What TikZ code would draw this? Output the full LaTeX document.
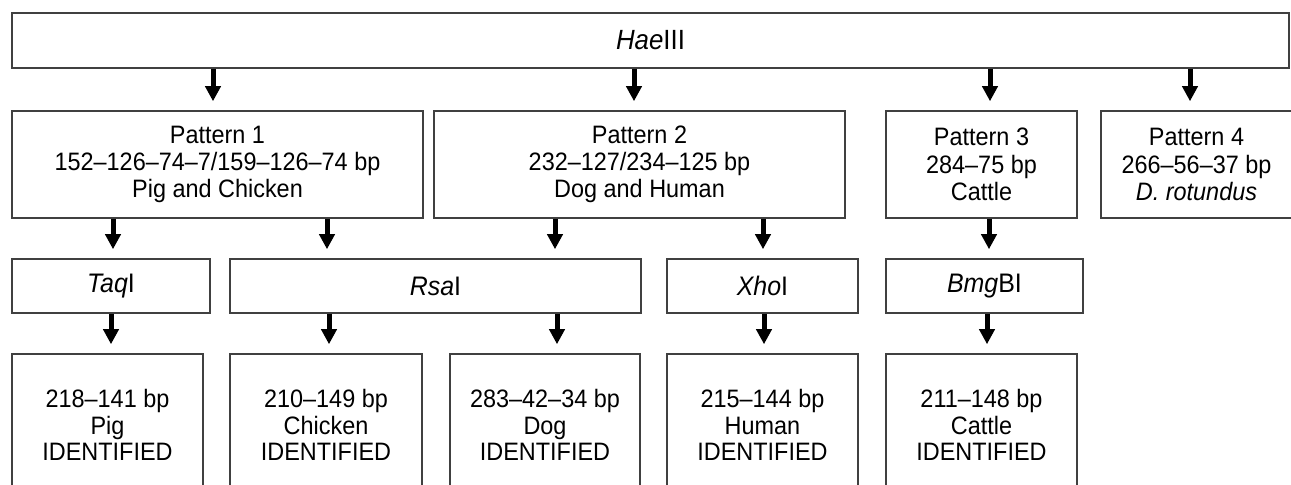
\documentclass[tikz,border=0pt]{standalone}
\usepackage{fontspec}
\setmainfont{Liberation Sans}[FakeStretch=0.93]
\usetikzlibrary{arrows.meta}
\begin{document}
\begin{tikzpicture}[x=0.5pt,y=-0.5pt,
		box/.style={draw=black!75,line width=0.75pt,align=center,inner sep=0pt,font=\fontsize{12.6}{13.6}\selectfont},
		enzyme/.style={box,minimum height=27pt,font=\fontsize{13.4}{14}\selectfont},
		result/.style={box,minimum height=71pt,font=\fontsize{12.6}{13.2}\selectfont},
		arr/.style={line width=2.5pt,-{Triangle[width=7.5pt,length=7.5pt]},shorten >=4.5pt}]
		\useasboundingbox (0,0) rectangle (1291,485);
		% arrow columns
		\coordinate (a1) at (213,0);
		\coordinate (a2) at (634,0);
		\coordinate (a3) at (990,0);
		\coordinate (a4) at (1190,0);
		\coordinate (b1) at (113,0);
		\coordinate (b2) at (327,0);
		\coordinate (b3) at (555,0);
		\coordinate (b4) at (763,0);
		\coordinate (b5) at (989,0);
		\coordinate (c1) at (111,0);
		\coordinate (c2) at (329,0);
		\coordinate (c3) at (557,0);
		\coordinate (c4) at (764,0);
		\coordinate (c5) at (987,0);
		% first digest
		\node [box,minimum width=638.5pt,minimum height=27.5pt,font=\fontsize{13.9}{15}\selectfont] (hae) at (650.5,40.5) {\textit{Hae}III};
		\node [box,minimum width=205.5pt,minimum height=53.5pt] (p1) at (217.5,164.5) {Pattern 1\\152–126–74–7/159–126–74 bp\\Pig and Chicken};
		\node [box,minimum width=205.5pt,minimum height=53.5pt] (p2) at (639.5,164.5) {Pattern 2\\232–127/234–125 bp\\Dog and Human};
		\node [box,minimum width=95.5pt,minimum height=53.5pt] (p3) at (981.5,164.5) {Pattern 3\\284–75 bp\\Cattle};
		\node [box,minimum width=95.5pt,minimum height=53.5pt] (p4) at (1196.5,164.5) {Pattern 4\\266–56–37 bp\\\textit{D. rotundus}};
		% second digest
		\node [enzyme,minimum width=99pt] (taq) at (111,286) {\textit{Taq}I};
		\node [enzyme,minimum width=205.5pt] (rsa) at (435.5,286) {\textit{Rsa}I};
		\node [enzyme,minimum width=95.5pt] (xho) at (762.5,286) {\textit{Xho}I};
		\node [enzyme,minimum width=98.5pt] (bmg) at (984.5,286) {\textit{Bmg}BI};
		% identification
		\node [result,minimum width=95.5pt] (pig) at (107.5,425) {218–141 bp\\Pig\\IDENTIFIED};
		\node [result,minimum width=96pt] (chk) at (326,425) {210–149 bp\\Chicken\\IDENTIFIED};
		\node [result,minimum width=95pt] (dog) at (545,425) {283–42–34 bp\\Dog\\IDENTIFIED};
		\node [result,minimum width=95.5pt] (hum) at (762.5,425) {215–144 bp\\Human\\IDENTIFIED};
		\node [result,minimum width=95.5pt] (cat) at (981.5,425) {211–148 bp\\Cattle\\IDENTIFIED};
		% arrows
		\draw [arr] (hae.south -| a1) -- (p1.north -| a1);
		\draw [arr] (hae.south -| a2) -- (p2.north -| a2);
		\draw [arr] (hae.south -| a3) -- (p3.north -| a3);
		\draw [arr] (hae.south -| a4) -- (p4.north -| a4);
		\draw [arr] (p1.south -| b1) -- (taq.north -| b1);
		\draw [arr] (p1.south -| b2) -- (rsa.north -| b2);
		\draw [arr] (p2.south -| b3) -- (rsa.north -| b3);
		\draw [arr] (p2.south -| b4) -- (xho.north -| b4);
		\draw [arr] (p3.south -| b5) -- (bmg.north -| b5);
		\draw [arr] (taq.south -| c1) -- (pig.north -| c1);
		\draw [arr] (rsa.south -| c2) -- (chk.north -| c2);
		\draw [arr] (rsa.south -| c3) -- (dog.north -| c3);
		\draw [arr] (xho.south -| c4) -- (hum.north -| c4);
		\draw [arr] (bmg.south -| c5) -- (cat.north -| c5);
	\end{tikzpicture}
\end{document}
